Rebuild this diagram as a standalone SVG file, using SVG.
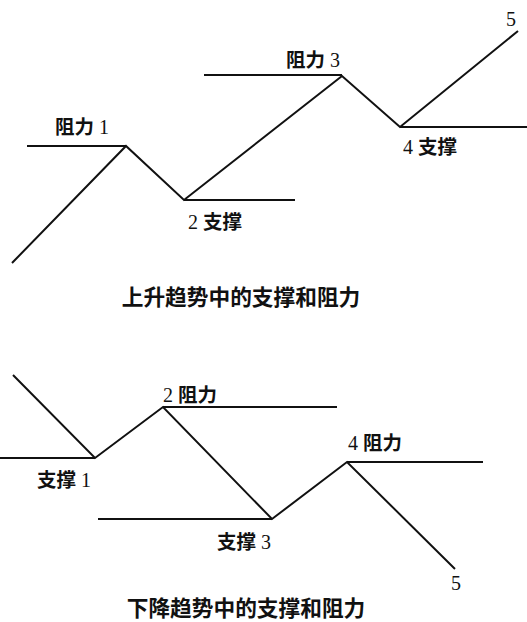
<svg xmlns="http://www.w3.org/2000/svg" width="527" height="622" viewBox="0 0 527 622">
<style>
.ln{fill:none;stroke:#111;stroke-width:2;stroke-linejoin:miter}
.lb{font-family:"Liberation Serif","Noto Sans CJK SC",serif;font-size:20px;fill:#111}
.cj{font-family:"Noto Sans CJK SC",sans-serif;font-weight:700;font-size:19.5px}
.tt{font-family:"Noto Sans CJK SC",sans-serif;font-weight:700;font-size:21.7px;fill:#111}
</style>
<rect width="527" height="622" fill="#fff"/>
<g id="connectors">
<polyline class="ln" points="12,263 126,146 184,200 342,76 400,127 518,31"/>
<line class="ln" x1="27" y1="146" x2="126" y2="146"/>
<line class="ln" x1="184" y1="200" x2="295" y2="200"/>
<line class="ln" x1="204" y1="75" x2="342" y2="75"/>
<line class="ln" x1="400" y1="127" x2="527" y2="127"/>
<polyline class="ln" points="13,375 95,458 163,407 272,519 347,462 455,569"/>
<line class="ln" x1="0" y1="458" x2="95" y2="458"/>
<line class="ln" x1="163" y1="407" x2="337" y2="407"/>
<line class="ln" x1="98" y1="519" x2="272" y2="519"/>
<line class="ln" x1="347" y1="462" x2="483" y2="462"/>
</g>
<g id="r1"><text class="lb" x="55" y="134"><tspan class="cj">阻力</tspan> 1</text></g>
<g id="s2"><text class="lb" x="188" y="229">2 <tspan class="cj">支撑</tspan></text></g>
<g id="r3"><text class="lb" x="286" y="67"><tspan class="cj">阻力</tspan> 3</text></g>
<g id="s4"><text class="lb" x="403" y="154">4 <tspan class="cj">支撑</tspan></text></g>
<g id="p5"><text class="lb" x="506" y="26">5</text></g>
<g id="title1"><text class="tt" x="241" y="305" text-anchor="middle">上升趋势中的支撑和阻力</text></g>
<g id="s1"><text class="lb" x="37" y="487"><tspan class="cj">支撑</tspan> 1</text></g>
<g id="r2"><text class="lb" x="163" y="402">2 <tspan class="cj">阻力</tspan></text></g>
<g id="s3"><text class="lb" x="217" y="549"><tspan class="cj">支撑</tspan> 3</text></g>
<g id="r4"><text class="lb" x="348" y="450">4 <tspan class="cj">阻力</tspan></text></g>
<g id="q5"><text class="lb" x="451" y="590">5</text></g>
<g id="title2"><text class="tt" x="246" y="616" text-anchor="middle">下降趋势中的支撑和阻力</text></g>
</svg>
